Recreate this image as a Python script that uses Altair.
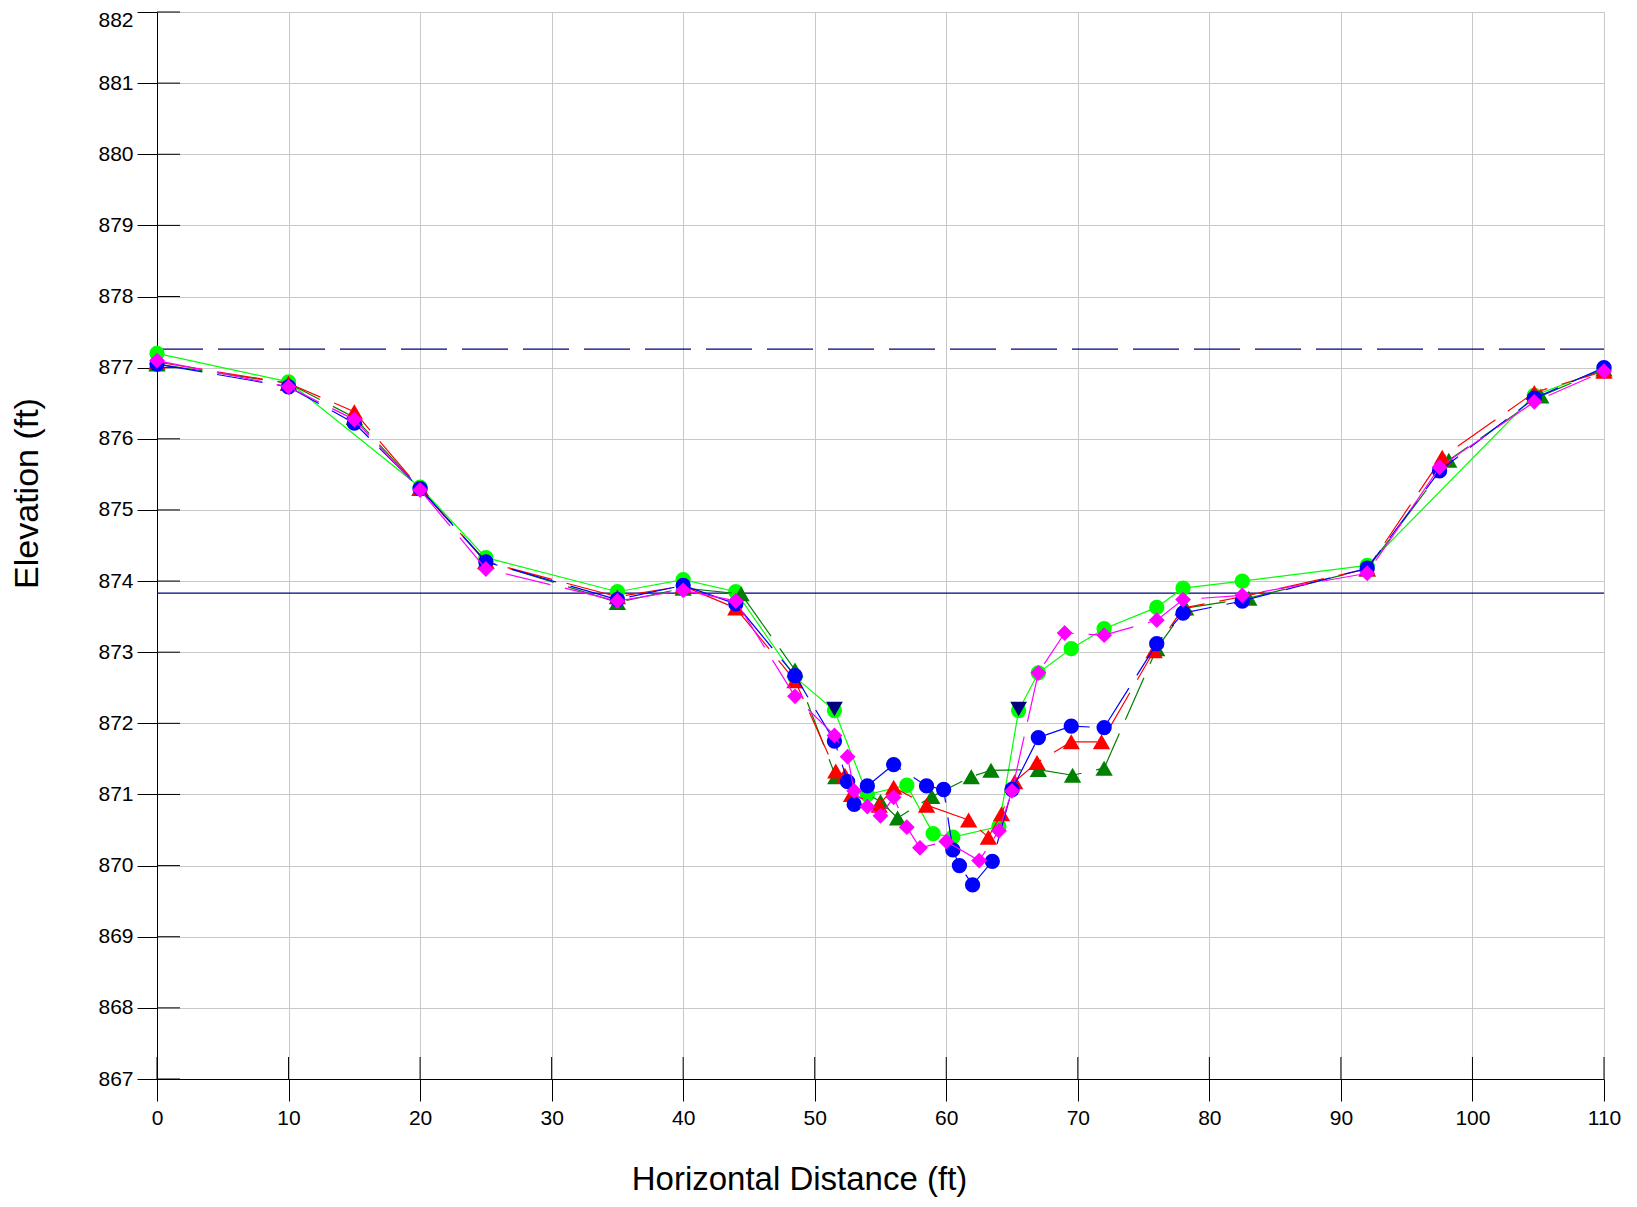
import altair as alt
import pandas as pd

# ---- data ----
X_TICKS = list(range(0, 111, 10))
Y_TICKS = list(range(867, 883))

lime_x = [0, 10, 20, 25, 35, 40, 44, 48.5, 51.5, 54, 57, 59, 60.5, 64, 65.5, 67, 69.5, 72, 76, 78, 82.5, 92, 104.7, 110]
lime_y = [877.2, 876.8, 875.32, 874.33, 873.85, 874.02, 873.85, 872.65, 872.18, 871.0, 871.13, 870.45, 870.4, 870.55, 872.18, 872.71, 873.05, 873.33, 873.63, 873.9, 874.0, 874.22, 876.61, 876.98]

dkgreen_x = [0, 10, 15, 20, 25, 35, 40, 44.4, 48.5, 51.6, 55, 56.3, 58.9, 61.9, 63.4, 67, 69.6, 72, 76, 78.2, 83, 92, 98.2, 105.2, 110]
dkgreen_y = [877.05, 876.78, 876.3, 875.3, 874.28, 873.7, 873.9, 873.82, 872.75, 871.25, 870.9, 870.67, 870.97, 871.25, 871.34, 871.35, 871.27, 871.37, 873.05, 873.62, 873.76, 874.17, 875.7, 876.6, 876.98]

red_x = [0, 10, 15, 20, 25, 35, 40, 44, 48.5, 51.6, 52.3, 52.8, 54.9, 56, 58.5, 61.7, 63.2, 64.2, 65.2, 66.9, 69.5, 71.8, 75.8, 78, 82.5, 92, 97.7, 104.7, 110]
red_y = [877.08, 876.78, 876.38, 875.3, 874.27, 873.78, 873.93, 873.62, 872.6, 871.33, 871.27, 871.0, 870.85, 871.1, 870.85, 870.64, 870.4, 870.73, 871.18, 871.45, 871.74, 871.74, 873.02, 873.62, 873.78, 874.17, 875.74, 876.65, 876.95]

blue_x = [0, 10, 15, 20, 25, 35, 40, 44, 48.5, 51.5, 52.5, 53, 54, 56, 58.5, 59.8, 60.5, 61, 62, 63.5, 65, 67, 69.5, 72, 76, 78, 82.5, 92, 97.5, 104.7, 110]
blue_y = [877.05, 876.73, 876.22, 875.3, 874.27, 873.74, 873.94, 873.68, 872.67, 871.75, 871.18, 870.86, 871.12, 871.42, 871.12, 871.07, 870.22, 870.0, 869.73, 870.06, 871.07, 871.8, 871.96, 871.94, 873.12, 873.55, 873.72, 874.18, 875.55, 876.57, 877.0]

magenta_x = [0, 10, 15, 20, 25, 35, 40, 44, 48.5, 51.5, 52.5, 53, 54, 55, 56, 57, 58, 60, 62.5, 64, 65, 67, 69, 72, 76, 78, 82.5, 92, 97.5, 104.7, 110]
magenta_y = [877.1, 876.73, 876.27, 875.28, 874.17, 873.72, 873.87, 873.72, 872.38, 871.83, 871.53, 871.05, 870.83, 870.7, 870.96, 870.54, 870.25, 870.34, 870.07, 870.49, 871.05, 872.71, 873.27, 873.24, 873.45, 873.74, 873.8, 874.11, 875.6, 876.52, 876.95]

navy_x = [51.5, 65.5]
navy_y = [872.2, 872.2]

dashed_level = [877.26]
solid_level = [873.83]

W, H = 1447, 1067
FONT = "Liberation Sans"

x_enc = alt.X("x:Q", scale=alt.Scale(domain=[0, 110], nice=False, zero=False),
              axis=alt.Axis(values=X_TICKS, title="Horizontal Distance (ft)", labelFont=FONT,
                            labelFontSize=21, labelColor="black", labelPadding=6, labelFlush=False,
                            tickSize=22, tickColor="black", tickWidth=1, domainColor="black",
                            domainWidth=1, grid=True, gridColor="#c8c8c8", gridWidth=1,
                            titleFont=FONT, titleFontSize=33, titleFontWeight="normal",
                            titleColor="black", titleX=642, titleY=110, titleAlign="center",
                            titleBaseline="alphabetic"))
y_enc = alt.Y("y:Q", scale=alt.Scale(domain=[867, 882], nice=False, zero=False),
              axis=alt.Axis(values=Y_TICKS, title="Elevation (ft)", labelFont=FONT,
                            labelFontSize=21, labelColor="black", labelPadding=4,
                            labelOffset={"condition": {"test": "datum.value == 882", "value": 8}, "value": 0},
                            tickSize=20, tickColor="black", tickWidth=1, domainColor="black",
                            domainWidth=1, grid=True, gridColor="#c8c8c8", gridWidth=1,
                            titleFont=FONT, titleFontSize=34, titleFontWeight="normal",
                            titleColor="black", titleAngle=270, titleX=-120, titleY=481,
                            titleAlign="center", titleBaseline="alphabetic"))

layers = []

# reference levels
dash_df = pd.DataFrame({"y": dashed_level})
solid_df = pd.DataFrame({"y": solid_level})
layers.append(alt.Chart(dash_df).mark_rule(color="#000080", strokeWidth=1.3, strokeDash=[46, 15])
              .encode(y=y_enc, x=alt.value(0), x2=alt.value(W)))
layers.append(alt.Chart(solid_df).mark_rule(color="#000080", strokeWidth=1.3)
              .encode(y=y_enc, x=alt.value(0), x2=alt.value(W)))

# inward tick marks
yt_df = pd.DataFrame({"y": Y_TICKS})
xt_df = pd.DataFrame({"x": X_TICKS})
layers.append(alt.Chart(yt_df).mark_rule(color="black", strokeWidth=1)
              .encode(y=y_enc, x=alt.value(0), x2=alt.value(23)))
layers.append(alt.Chart(xt_df).mark_rule(color="black", strokeWidth=1)
              .encode(x=x_enc, y=alt.value(H), y2=alt.value(H - 22)))

series = [
    (lime_x, lime_y, "#00ff00", "circle", 235, None),
    (dkgreen_x, dkgreen_y, "#008000", "triangle-up", 300, [46, 15]),
    (red_x, red_y, "#ff0000", "triangle-up", 300, [46, 15]),
    (blue_x, blue_y, "#0000ff", "circle", 235, [46, 15]),
    (magenta_x, magenta_y, "#ff00ff", "diamond", 250, [46, 15]),
]

for xs, ys, color, shape, size, dash in series:
    df = pd.DataFrame({"x": xs, "y": ys, "i": list(range(len(xs)))})
    if dash:
        line = alt.Chart(df).mark_line(color=color, strokeWidth=1.2, strokeDash=dash)
    else:
        line = alt.Chart(df).mark_line(color=color, strokeWidth=1.2)
    layers.append(line.encode(x=x_enc, y=y_enc, order=alt.Order("i:Q")))
    layers.append(alt.Chart(df).mark_point(shape=shape, filled=True, size=size, color=color, opacity=1)
                  .encode(x=x_enc, y=y_enc))

navy_df = pd.DataFrame({"x": navy_x, "y": navy_y})
layers.append(alt.Chart(navy_df).mark_point(shape="triangle-down", filled=True, size=280,
                                              color="#000080", opacity=1)
              .encode(x=x_enc, y=y_enc))

chart = alt.layer(*layers).properties(
    width=W, height=H,
    padding={"left": 149, "top": 4, "right": 20, "bottom": 120},
    autosize=alt.AutoSizeParams(type="none"),
).configure_view(stroke="transparent")

chart.save("out.html", embed_options={"renderer": "svg", "actions": False})
